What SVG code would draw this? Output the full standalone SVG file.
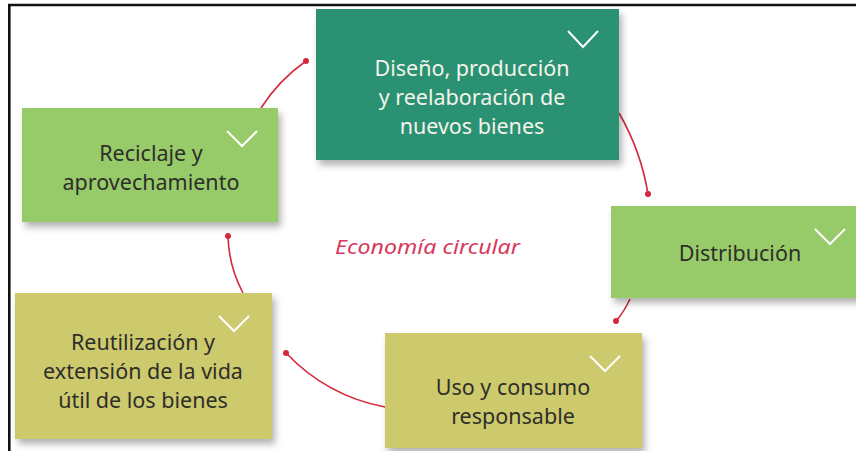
<svg xmlns="http://www.w3.org/2000/svg" width="856" height="451" viewBox="0 0 856 451">
<defs>
<filter id="sh" x="-10%" y="-10%" width="130%" height="140%">
<feDropShadow dx="3" dy="5" stdDeviation="3.5" flood-color="#000" flood-opacity="0.3"/>
</filter>
<marker id="dot" viewBox="0 0 10 10" refX="5" refY="5" markerWidth="6" markerHeight="6" markerUnits="userSpaceOnUse">
<circle cx="5" cy="5" r="5" fill="#d4293d"/>
</marker>
</defs>
<style>
.box{filter:url(#sh);}
.dg{fill:#2c9172;}
.lg{fill:#97cb69;}
.ol{fill:#cdc96d;}
.chev{fill:none;stroke:#ffffff;stroke-width:2;}
.t{font-family:"Noto Sans","Open Sans",sans-serif;font-size:21.5px;text-anchor:middle;fill:#2e2e2a;}
.tw{fill:#f4f4ea;}
.con{fill:none;stroke:#d4293d;stroke-width:1.6;marker-end:url(#dot);}
.title{font-family:"Noto Sans","DejaVu Sans",sans-serif;font-style:italic;font-size:20px;fill:#d8385a;}
</style>
<rect width="856" height="451" fill="#ffffff"/>
<path d="M9.3 451 V5 H856" fill="none" stroke="#111" stroke-width="2.6"/>

<g id="connectors">
<path class="con" d="M261 108 Q279 80 306 61"/>
<path class="con" d="M619 113 Q641 151 648 194"/>
<path class="con" d="M630 299 Q624 312 616 321"/>
<path class="con" d="M385 407 Q327 396 286 353"/>
<path class="con" d="M243 293 Q228.7 266 228 236"/>
</g>

<g id="n-diseno">
<rect class="box dg" x="316" y="9" width="303" height="151"/>
<polyline class="chev" points="568,31 583,47 598,31"/>
<text class="t tw" x="472" y="76">Diseño, producción</text>
<text class="t tw" x="472" y="105">y reelaboración de</text>
<text class="t tw" x="472" y="134">nuevos bienes</text>
</g>

<g id="n-reciclaje">
<rect class="box lg" x="22" y="108" width="256" height="114"/>
<polyline class="chev" points="227,131 242,146 257,131"/>
<text class="t" x="151" y="161">Reciclaje y</text>
<text class="t" x="151" y="190">aprovechamiento</text>
</g>

<g id="n-distribucion">
<rect class="box lg" x="611" y="206" width="250" height="92"/>
<polyline class="chev" points="815,229 830,244 845,229"/>
<text class="t" x="740" y="261">Distribución</text>
</g>

<g id="n-reutilizacion">
<rect class="box ol" x="15" y="293" width="257" height="146"/>
<polyline class="chev" points="219,316 234,331 249,316"/>
<text class="t" x="143" y="350">Reutilización y</text>
<text class="t" x="143" y="379">extensión de la vida</text>
<text class="t" x="143" y="408">útil de los bienes</text>
</g>

<g id="n-uso">
<rect class="box ol" x="385" y="333" width="257" height="115"/>
<polyline class="chev" points="590,356 605,371 620,356"/>
<text class="t" x="513" y="395">Uso y consumo</text>
<text class="t" x="513" y="424">responsable</text>
</g>

<text class="title" x="335" y="254" textLength="185" lengthAdjust="spacingAndGlyphs">Economía circular</text>
</svg>
